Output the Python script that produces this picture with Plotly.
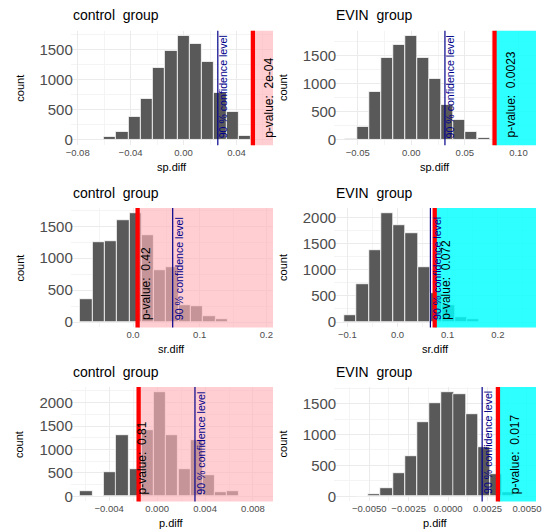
import plotly.graph_objects as go

W, H = 547, 532

# ---------------- data ----------------
sp_control_bins = [-0.0556, -0.0463, -0.0370, -0.0278, -0.0185, -0.0093, 0.0, 0.0093, 0.0185, 0.0278, 0.0370, 0.0463]
sp_control_counts = [60, 140, 390, 680, 1200, 1470, 1720, 1590, 1300, 780, 460, 70]
sp_control_binwidth = 0.00926
sp_control_obs = 0.0524
sp_control_ci = 0.0259
sp_control_p = "2e-04"

sp_evin_bins = [-0.0563, -0.0450, -0.0338, -0.0225, -0.0113, 0.0, 0.0113, 0.0225, 0.0338, 0.0450, 0.0563, 0.0676]
sp_evin_counts = [15, 230, 860, 1460, 1690, 1850, 1460, 1080, 620, 360, 150, 45]
sp_evin_binwidth = 0.01126
sp_evin_obs = 0.0777
sp_evin_ci = 0.0314
sp_evin_p = "0.0023"

sr_control_bins = [-0.0700, -0.0516, -0.0332, -0.0147, 0.0037, 0.0221, 0.0405, 0.0590, 0.0774, 0.0958, 0.1142, 0.1326]
sr_control_counts = [365, 1250, 1265, 1600, 1700, 1355, 818, 860, 260, 250, 88, 40]
sr_control_binwidth = 0.01842
sr_control_obs = 0.0069
sr_control_ci = 0.0595
sr_control_p = "0.42"

sr_evin_bins = [-0.0939, -0.0694, -0.0450, -0.0205, 0.0040, 0.0284, 0.0529, 0.0773, 0.1018, 0.1262, 0.1507]
sr_evin_counts = [127, 724, 1378, 2083, 1867, 1708, 1048, 560, 318, 95, 50]
sr_evin_binwidth = 0.02446
sr_evin_obs = 0.0742
sr_evin_ci = 0.0656
sr_evin_p = "0.072"

p_control_bins = [-0.0059, -0.0039, -0.0029, -0.0018, -0.0008, 0.0002, 0.0012, 0.0023, 0.0033, 0.0043, 0.0053, 0.0063]
p_control_counts = [107, 507, 1300, 590, 1420, 2220, 1300, 590, 1190, 450, 90, 100]
p_control_binwidth = 0.00102
p_control_obs = -0.00154
p_control_ci = 0.00316
p_control_p = "0.81"

p_evin_bins = [-0.00543, -0.00466, -0.00389, -0.00312, -0.00235, -0.00157, -0.00080, -0.00003, 0.00074, 0.00151, 0.00229, 0.00306, 0.00383]
p_evin_counts = [10, 32, 134, 376, 656, 1204, 1516, 1683, 1661, 1323, 801, 360, 65]
p_evin_binwidth = 0.000772
p_evin_obs = 0.00316
p_evin_ci = 0.00216
p_evin_p = "0.017"

group_titles = ["control\u00a0 group", "EVIN\u00a0 group"]
x_labels = ["sp.diff", "sr.diff", "p.diff"]

# ---------------- styling / geometry ----------------
FONT = "Liberation Sans, Arial, sans-serif"
BAR = "#595959"
PINK = "rgba(255,180,186,0.65)"
CYAN = "rgba(0,255,255,0.82)"
BLUE = "#00008B"
GRID = "#EBEBEB"
MINOR = "#F4F4F4"

col_px = [(67, 273), (335.3, 541)]
row_px = [(31, 146), (209.3, 329.3), (389.3, 504.3)]

panels = [
    dict(row=0, col=0, bins=sp_control_bins, counts=sp_control_counts, bw=sp_control_binwidth,
         obs=sp_control_obs, ci=sp_control_ci, p=sp_control_p, shade=PINK,
         xr=[-0.0852, 0.0676], dt=0.04, fmt=".2f", pshift=7),
    dict(row=0, col=1, bins=sp_evin_bins, counts=sp_evin_counts, bw=sp_evin_binwidth,
         obs=sp_evin_obs, ci=sp_evin_ci, p=sp_evin_p, shade=CYAN,
         xr=[-0.072, 0.1165], dt=0.05, fmt=".2f", pshift=7),
    dict(row=1, col=0, bins=sr_control_bins, counts=sr_control_counts, bw=sr_control_binwidth,
         obs=sr_control_obs, ci=sr_control_ci, p=sr_control_p, shade=PINK,
         xr=[-0.0933, 0.2099], dt=0.1, fmt=".1f", pshift=-1),
    dict(row=1, col=1, bins=sr_evin_bins, counts=sr_evin_counts, bw=sr_evin_binwidth,
         obs=sr_evin_obs, ci=sr_evin_ci, p=sr_evin_p, shade=CYAN,
         xr=[-0.1262, 0.2763], dt=0.1, fmt=".1f", pshift=2),
    dict(row=2, col=0, bins=p_control_bins, counts=p_control_counts, bw=p_control_binwidth,
         obs=p_control_obs, ci=p_control_ci, p=p_control_p, shade=PINK,
         xr=[-0.0072, 0.00967], dt=0.004, fmt=".3f", pshift=-6),
    dict(row=2, col=1, bins=p_evin_bins, counts=p_evin_counts, bw=p_evin_binwidth,
         obs=p_evin_obs, ci=p_evin_ci, p=p_evin_p, shade=CYAN,
         xr=[-0.00722, 0.00558], dt=0.0025, fmt=".4f", pshift=8),
]


def px(x):
    return x / W


def py(y):
    return 1 - y / H


fig = go.Figure()
layout = dict(
    width=W, height=H, margin=dict(l=0, r=0, t=0, b=0),
    paper_bgcolor="white", plot_bgcolor="white", showlegend=False,
    font=dict(family=FONT, color="black"), bargap=0,
)
shapes = []
annotations = []

for i, pn in enumerate(panels):
    k = i + 1
    xa = "xaxis" if k == 1 else f"xaxis{k}"
    ya = "yaxis" if k == 1 else f"yaxis{k}"
    xr_ = "x" if k == 1 else f"x{k}"
    yr_ = "y" if k == 1 else f"y{k}"
    x0p, x1p = col_px[pn["col"]]
    y0p, y1p = row_px[pn["row"]]
    ymax = max(pn["counts"])
    yrange = [-0.05 * ymax, 1.05 * ymax]

    fig.add_trace(go.Bar(
        x=pn["bins"], y=pn["counts"], width=pn["bw"], xaxis=xr_, yaxis=yr_,
        marker=dict(color=BAR, line=dict(color="white", width=0.8)),
        hoverinfo="skip",
    ))

    layout[xa] = dict(
        domain=[px(x0p), px(x1p)], anchor=yr_, range=pn["xr"],
        tickmode="linear", tick0=0, dtick=pn["dt"], tickformat=pn["fmt"],
        showgrid=True, gridcolor=GRID, gridwidth=1, zeroline=False, showline=False,
        ticks="", tickfont=dict(size=9.5, color="#4D4D4D", family=FONT),
        minor=dict(dtick=pn["dt"] / 2, tick0=0, showgrid=True, gridcolor=MINOR, gridwidth=0.6),
        fixedrange=True,
    )
    layout[ya] = dict(
        domain=[py(y1p), py(y0p)], anchor=xr_, range=yrange,
        tickmode="linear", tick0=0, dtick=500, tickformat="d",
        showgrid=True, gridcolor=GRID, gridwidth=1, zeroline=False, showline=False,
        ticks="", tickfont=dict(size=15, color="#4D4D4D", family=FONT),
        ticklabelstandoff=-3,
        minor=dict(dtick=250, tick0=0, showgrid=True, gridcolor=MINOR, gridwidth=0.6),
        fixedrange=True,
    )

    # shaded p-value region
    shapes.append(dict(type="rect", xref=xr_, yref=f"{yr_} domain", x0=pn["obs"], x1=pn["xr"][1],
                       y0=0, y1=1, fillcolor=pn["shade"], line=dict(width=0), layer="above"))
    # confidence level line
    shapes.append(dict(type="line", xref=xr_, yref=f"{yr_} domain", x0=pn["ci"], x1=pn["ci"],
                       y0=0, y1=1, line=dict(color=BLUE, width=1.2), layer="above"))
    # observed statistic line
    shapes.append(dict(type="line", xref=xr_, yref=f"{yr_} domain", x0=pn["obs"], x1=pn["obs"],
                       y0=0, y1=1, line=dict(color="red", width=4.3), layer="above"))

    annotations.append(dict(
        x=pn["ci"], y=0, xref=xr_, yref=yr_, text="90 % confidence level", textangle=-90,
        xanchor="left", yanchor="bottom", xshift=-2, showarrow=False,
        font=dict(size=10.6, color=BLUE, family=FONT),
    ))
    annotations.append(dict(
        x=pn["obs"], y=0, xref=xr_, yref=yr_, text="p-value:\u00a0 " + pn["p"], textangle=-90,
        xanchor="left", yanchor="bottom", xshift=pn["pshift"], showarrow=False,
        font=dict(size=12, color="black", family=FONT),
    ))

    # panel title
    annotations.append(dict(
        x=px(x0p), y=py(y0p - 15.5), xref="paper", yref="paper", text=group_titles[pn["col"]],
        xanchor="left", yanchor="middle", showarrow=False, font=dict(size=14, color="black"),
    ))
    # x axis title
    annotations.append(dict(
        x=px((x0p + x1p) / 2), y=py(y1p + 22), xref="paper", yref="paper", text=x_labels[pn["row"]],
        xanchor="center", yanchor="middle", showarrow=False, font=dict(size=11, color="black"),
    ))
    # y axis title
    annotations.append(dict(
        x=px(x0p - 52), y=py((y0p + y1p) / 2), xref="paper", yref="paper", text="count",
        textangle=-90, xanchor="center", yanchor="middle", showarrow=False,
        font=dict(size=11, color="black"),
    ))

layout["shapes"] = shapes
layout["annotations"] = annotations
fig.update_layout(**layout)
fig.write_html("out.html", config={"displayModeBar": False},
               post_script="document.body.style.margin='0';")
